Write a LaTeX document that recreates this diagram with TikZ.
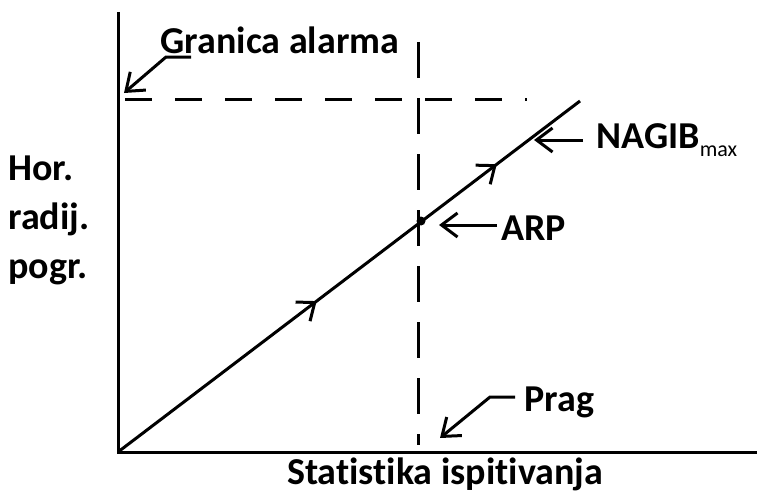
\documentclass[tikz,border=0pt]{standalone}
\usepackage{fontspec}
\setmainfont{Carlito}[Ligatures=CommonOff]
\usetikzlibrary{arrows.meta,decorations.markings}
\begin{document}
\begin{tikzpicture}[
    x=1pt, y=-1pt,
    line width=3pt,
    every node/.style={font=\fontsize{38}{42}\selectfont\bfseries, inner sep=0pt},
    tip/.style={-{Straight Barb[length=16pt,width=24pt,line width=3pt]}},
    limit/.style={dash pattern=on 27pt off 23pt},
    midarrows/.style={postaction={decorate}, decoration={markings,
      mark=at position 0.43 with {\arrow{Straight Barb[length=15pt,width=24pt,line width=3pt]}},
      mark=at position 0.82 with {\arrow{Straight Barb[length=15pt,width=24pt,line width=3pt]}}}}
  ]
  \useasboundingbox (0,0) rectangle (759,495);
  % axes
  \coordinate (O) at (118,452);
  \coordinate (ytop) at (118,12);
  \coordinate (xend) at (757,452);
  \draw (ytop) -- (O) -- (xend);
  % limit lines
  \coordinate (hl) at (125,99);
  \coordinate (hr) at (527,99);
  \coordinate (vt) at (418,42);
  \coordinate (vb) at (418,445);
  \draw[limit] (hl) -- (hr);
  \draw[dash pattern=on 36pt off 20pt] (vt) -- (vb);
  % characteristic
  \coordinate (top) at (580,101);
  \draw[midarrows] (O) -- (top);
  \fill (421,221) circle (4.5pt) coordinate (arp);
  % labels
  \node[anchor=center] (granica) at (280,40) {Granica alarma};
  \node[anchor=west] (nagib) at (595,140) {NAGIB\raisebox{-0.4ex}{\fontsize{22}{24}\selectfont\mdseries max}};
  \node[anchor=west] (arplbl) at (500,228) {ARP};
  \node[anchor=west] (prag) at (523,402) {Prag};
  \node[anchor=center] (stat) at (445,474) {Statistika ispitivanja};
  \node[anchor=west, align=left, font=\fontsize{38}{49}\selectfont\bfseries] (hor) at (7,220) {Hor.\\radij.\\pogr.};
  % pointers
  \coordinate (g1) at (191,57);
  \coordinate (g2) at (166,57);
  \coordinate (g3) at (124,93);
  \draw[tip] (g1) -- (g2) -- (g3);
  \coordinate (n1) at (583,140);
  \coordinate (n2) at (534,140);
  \draw[tip] (n1) -- (n2);
  \coordinate (a1) at (497,225);
  \coordinate (a2) at (439,225);
  \draw[tip] (a1) -- (a2);
  \coordinate (p1) at (515,397);
  \coordinate (p2) at (490,397);
  \coordinate (p3) at (440,438);
  \draw[tip] (p1) -- (p2) -- (p3);
\end{tikzpicture}
\end{document}
